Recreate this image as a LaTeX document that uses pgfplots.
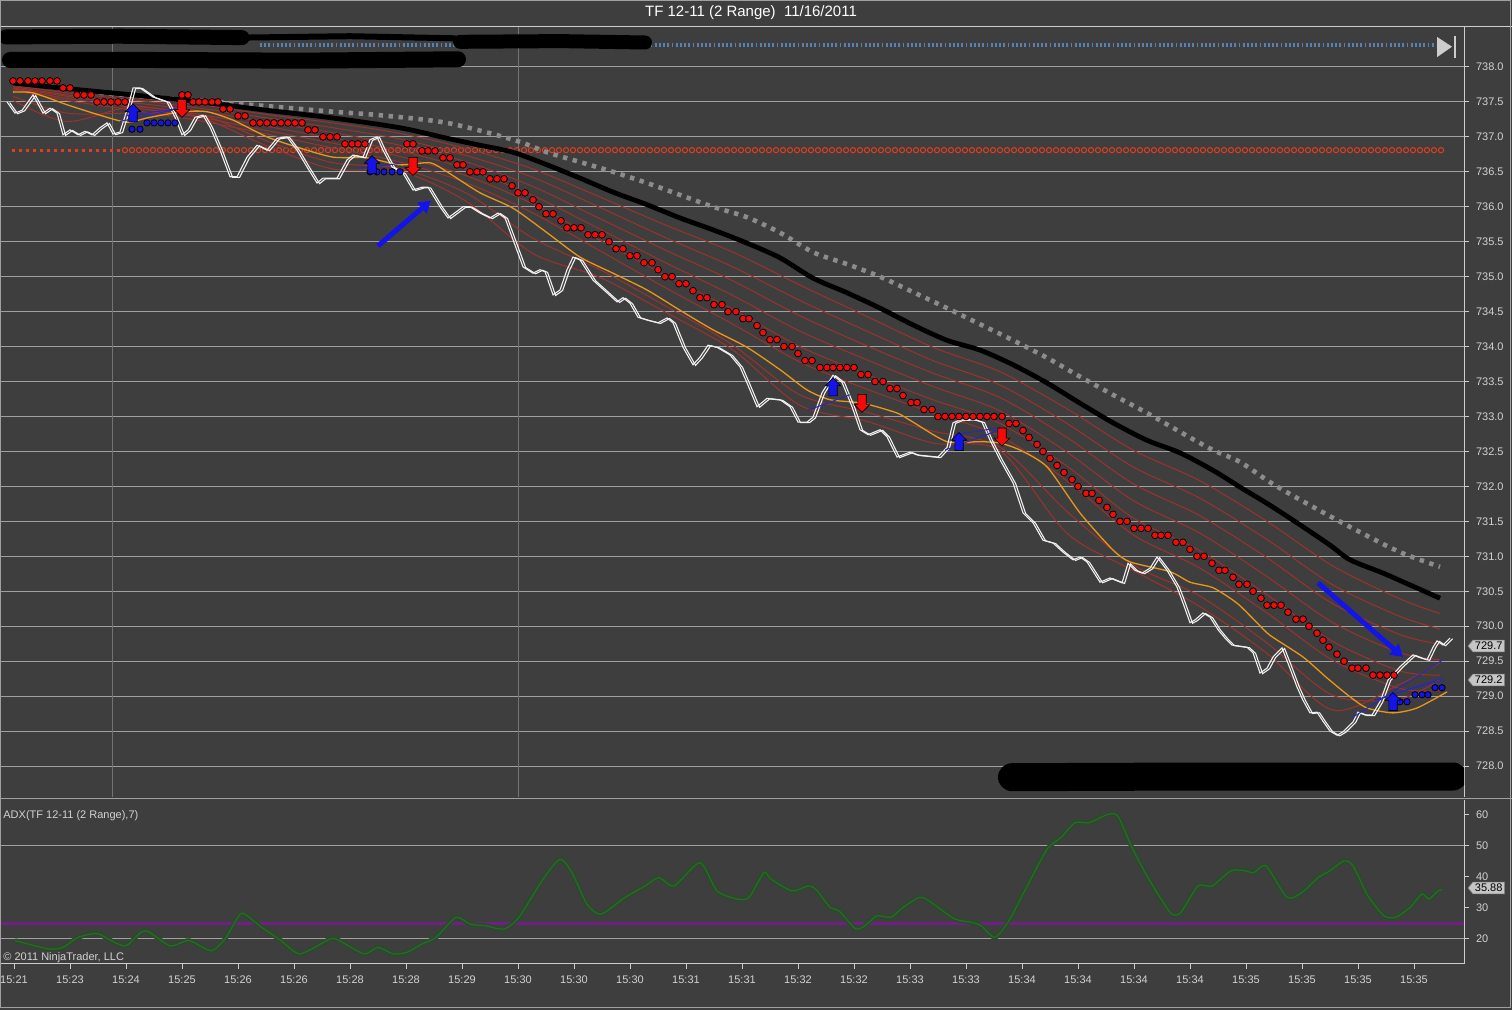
\documentclass[border=0pt]{standalone}
\usepackage{fontspec}
\setmainfont{Liberation Sans}
\usepackage{pgfplots}
\usepackage{pgfplotstable}
\pgfplotsset{compat=1.18}
\usetikzlibrary{arrows.meta,decorations.markings,shapes.symbols}

\definecolor{bgc}{RGB}{62,62,62}
\definecolor{gridc}{RGB}{160,160,160}
\definecolor{vgridc}{RGB}{115,115,115}
\definecolor{axisc}{RGB}{205,205,205}
\definecolor{labc}{RGB}{210,210,210}
\definecolor{grayd}{RGB}{140,140,140}
\definecolor{reddot}{RGB}{245,10,10}
\definecolor{circc}{RGB}{228,60,30}
\definecolor{fanc}{RGB}{155,50,44}
\definecolor{orangec}{RGB}{235,150,25}
\definecolor{pricec}{RGB}{240,240,240}
\definecolor{bluec}{RGB}{20,20,232}
\definecolor{bluel}{RGB}{40,40,190}
\definecolor{topblue}{RGB}{85,130,178}
\definecolor{purplec}{RGB}{112,32,132}
\definecolor{greenc}{RGB}{38,78,38}
\definecolor{greenl}{RGB}{50,100,50}
\definecolor{tagc}{RGB}{198,198,198}

\pgfdeclareplotmark{uparr}{%
  \pgfpathmoveto{\pgfqpoint{0pt}{4.6pt}}%
  \pgfpathlineto{\pgfqpoint{3.9pt}{0.7pt}}%
  \pgfpathlineto{\pgfqpoint{2.1pt}{0.7pt}}%
  \pgfpathlineto{\pgfqpoint{2.1pt}{-4.4pt}}%
  \pgfpathlineto{\pgfqpoint{-2.1pt}{-4.4pt}}%
  \pgfpathlineto{\pgfqpoint{-2.1pt}{0.7pt}}%
  \pgfpathlineto{\pgfqpoint{-3.9pt}{0.7pt}}%
  \pgfpathclose\pgfusepathqfillstroke}
\pgfdeclareplotmark{downarr}{%
  \pgfpathmoveto{\pgfqpoint{0pt}{-4.6pt}}%
  \pgfpathlineto{\pgfqpoint{3.9pt}{-0.7pt}}%
  \pgfpathlineto{\pgfqpoint{2.1pt}{-0.7pt}}%
  \pgfpathlineto{\pgfqpoint{2.1pt}{4.4pt}}%
  \pgfpathlineto{\pgfqpoint{-2.1pt}{4.4pt}}%
  \pgfpathlineto{\pgfqpoint{-2.1pt}{-0.7pt}}%
  \pgfpathlineto{\pgfqpoint{-3.9pt}{-0.7pt}}%
  \pgfpathclose\pgfusepathqfillstroke}
\pgfdeclareplotmark{ring}{%
  \pgfpathcircle{\pgfpointorigin}{1.3pt}\pgfusepathqstroke}

% close price (two white traces)
\pgfplotstableread{
x y
7 737.50
15 737.34
22 737.38
33 737.60
43 737.34
50 737.41
57 737.34
63 737.03
70 737.10
78 737.03
85 737.08
92 737.03
100 737.13
107 737.20
113 737.04
120 737.07
128 737.43
133 737.70
140 737.70
153 737.57
167 737.50
175 737.28
182 737.03
188 737.10
195 737.28
203 737.31
210 737.14
220 736.81
230 736.43
237 736.43
247 736.71
257 736.88
267 736.81
277 736.98
287 737.00
297 736.81
307 736.57
317 736.34
323 736.41
337 736.41
347 736.67
353 736.74
363 736.71
370 736.96
377 737.00
383 736.81
392 736.57
403 736.48
413 736.24
422 736.28
428 736.28
440 736.00
448 735.84
463 736.00
470 736.00
480 735.91
490 735.84
498 735.91
505 735.84
513 735.53
523 735.14
533 735.05
540 735.10
545 735.07
553 734.74
560 734.81
567 735.10
573 735.28
580 735.24
593 734.95
607 734.77
617 734.64
623 734.70
630 734.62
638 734.42
647 734.38
658 734.34
667 734.41
673 734.34
683 733.99
693 733.74
700 733.85
708 734.02
717 733.99
730 733.88
740 733.71
747 733.48
757 733.14
767 733.26
780 733.24
790 733.14
798 732.92
807 732.92
813 732.99
822 733.34
833 733.59
842 733.49
852 733.14
860 732.81
868 732.74
880 732.81
887 732.71
897 732.42
910 732.49
917 732.45
938 732.42
947 732.56
953 732.91
960 732.95
973 732.96
982 732.92
990 732.66
1000 732.38
1013 732.05
1023 731.62
1033 731.48
1043 731.23
1053 731.19
1063 731.06
1073 730.95
1080 730.99
1087 730.92
1100 730.63
1110 730.69
1122 730.62
1128 730.90
1135 730.80
1142 730.76
1150 730.83
1157 730.99
1167 730.80
1177 730.56
1183 730.33
1190 730.05
1195 730.09
1203 730.19
1210 730.13
1218 729.95
1225 729.83
1232 729.73
1247 729.70
1253 729.62
1260 729.33
1267 729.40
1273 729.56
1282 729.69
1288 729.47
1297 729.13
1303 728.94
1310 728.76
1317 728.77
1323 728.64
1330 728.50
1337 728.44
1343 728.49
1353 728.63
1358 728.77
1365 728.73
1372 728.73
1380 728.92
1388 729.23
1400 729.42
1413 729.59
1420 729.55
1427 729.52
1433 729.70
1437 729.79
1443 729.73
1450 729.83
}\price

% trailing stop dots
\pgfplotstableread{
x y
13 737.8
20 737.8
28 737.8
35 737.8
42 737.8
50 737.8
57 737.8
63 737.7
70 737.7
77 737.6
84 737.6
91 737.6
97 737.5
104 737.5
111 737.5
118 737.5
125 737.5
182 737.6
188 737.6
193 737.5
199 737.5
205 737.5
212 737.5
218 737.5
223 737.4
230 737.4
238 737.3
245 737.3
253 737.2
260 737.2
267 737.2
274 737.2
281 737.2
288 737.2
295 737.2
302 737.2
308 737.1
315 737.1
323 737.0
330 737.0
337 737.0
345 736.9
352 736.9
358 736.9
365 736.9
407 736.9
413 736.9
422 736.8
428 736.8
435 736.8
443 736.7
450 736.7
457 736.6
463 736.6
470 736.5
477 736.5
483 736.5
490 736.4
497 736.4
504 736.4
512 736.3
518 736.2
525 736.2
533 736.1
539 736.0
546 735.9
553 735.9
561 735.8
567 735.7
574 735.7
581 735.7
588 735.6
595 735.6
602 735.6
609 735.5
616 735.4
623 735.4
630 735.3
637 735.3
644 735.2
652 735.2
658 735.1
665 735.0
672 735.0
679 734.9
686 734.9
693 734.8
700 734.7
707 734.7
714 734.6
722 734.6
728 734.5
736 734.5
743 734.4
749 734.4
757 734.3
763 734.2
770 734.1
777 734.1
784 734.0
792 734.0
798 733.9
805 733.8
812 733.8
820 733.7
827 733.7
833 733.7
840 733.7
847 733.7
854 733.7
861 733.6
868 733.6
875 733.5
883 733.5
890 733.4
897 733.4
903 733.3
911 733.2
917 733.2
924 733.1
932 733.1
938 733.0
945 733.0
952 733.0
959 733.0
966 733.0
973 733.0
980 733.0
987 733.0
994 733.0
1002 733.0
1009 732.9
1016 732.9
1023 732.8
1029 732.7
1037 732.6
1043 732.5
1050 732.4
1057 732.3
1064 732.2
1072 732.1
1078 732.0
1086 731.9
1092 731.9
1099 731.8
1107 731.7
1113 731.6
1120 731.5
1127 731.5
1134 731.4
1141 731.4
1148 731.4
1155 731.3
1161 731.3
1168 731.3
1176 731.2
1183 731.2
1190 731.1
1197 731.0
1204 731.0
1212 730.9
1219 730.8
1225 730.8
1233 730.7
1239 730.6
1247 730.6
1253 730.5
1261 730.4
1267 730.3
1274 730.3
1281 730.3
1288 730.2
1296 730.1
1303 730.1
1309 730.0
1317 729.9
1323 729.8
1329 729.7
1337 729.6
1344 729.5
1352 729.4
1358 729.4
1366 729.4
1373 729.3
1380 729.3
1387 729.3
1394 729.3
}\stopdots

% ADX(7)
\pgfplotstableread{
x y
15 19.5
48 16.8
63 17.3
78 20.5
97 21.8
111 19.5
126 17.8
145 22.7
170 17.8
189 19.5
211 16.2
225 20.0
240 28.0
247 27.5
262 23.7
281 19.5
300 15.2
330 20.0
339 19.5
364 15.2
378 17.3
393 15.2
407 15.7
422 18.4
436 20.5
456 27.0
470 24.8
485 24.3
504 23.2
519 27.0
543 39.3
560 45.7
572 41.4
587 31.2
601 28.0
625 33.4
645 37.1
659 39.8
674 37.1
700 44.6
717 35.5
737 32.9
749 33.4
764 41.4
771 39.3
792 35.5
808 37.1
816 36.0
830 30.2
839 29.1
856 23.2
867 24.8
877 27.5
891 27.0
903 30.2
919 33.4
926 32.9
938 30.2
955 26.4
971 25.4
981 24.3
995 20.5
1009 25.9
1023 34.5
1047 48.9
1061 52.7
1075 57.5
1089 57.5
1108 60.2
1118 59.6
1132 49.5
1146 40.9
1160 33.4
1172 28.0
1181 28.6
1198 37.1
1212 37.1
1231 42.0
1245 42.0
1254 41.4
1266 43.6
1287 33.4
1302 35.0
1318 39.8
1330 42.0
1344 45.2
1353 43.6
1368 33.9
1384 27.5
1396 27.0
1410 30.2
1422 34.5
1429 32.9
1438 35.5
1442 35.9
}\adx

\pgfplotsset{
  lab/.style={font=\fontsize{5.5}{6}\selectfont, text=labc},
  fan/.style={fanc, line width=0.5pt, smooth, tension=0.5},
}

\begin{document}
\begin{tikzpicture}[x=1pt,y=1pt]
\useasboundingbox (0,0) rectangle (756,505);
\fill[bgc] (0,0) rectangle (756,505);

\begin{axis}[
  at={(0pt,106.5pt)}, anchor=south west, scale only axis,
  width=732pt, height=385pt,
  xmin=0, xmax=1464, ymin=727.557, ymax=738.572,
  axis x line=none, axis y line*=right,
  axis line style={-, draw=axisc, line width=0.5pt},
  tick align=outside, major tick length=2.5pt,
  ytick style={draw=axisc, line width=0.5pt},
  ytick={728,728.5,...,738.01},
  yticklabel style={lab, /pgf/number format/.cd, fixed, fixed zerofill, precision=1, assume math mode=true},
  ymajorgrids, grid style={gridc, line width=0.5pt},
]
% session lines
\addplot[vgridc, line width=0.5pt] coordinates {(112,727.557) (112,738.572)};
\addplot[vgridc, line width=0.5pt] coordinates {(518,727.557) (518,738.572)};

% blue dotted level
\addplot[topblue, line width=2pt, dash pattern=on 0.9pt off 1.2pt] coordinates {(260,738.31) (1436,738.31)};

% red dotted level: small dots, then open circles
\addplot[circc, line width=1.4pt, dash pattern=on 1.4pt off 2.1pt] coordinates {(12,736.81) (122,736.81)};
\addplot[draw=none, decoration={markings, mark=between positions 0 and 1 step 3.5pt with {\pgfuseplotmark{ring}}}, postaction={decorate, draw=none}, circc, line width=0.5pt] coordinates {(125,736.81) (1446,736.81)};

% ribbon of averages
\addplot[fan] coordinates {(13,737.75)(67,737.66)(133,737.56)(200,737.46)(267,737.32)(333,737.20)(400,737.05)(467,736.83)(533,736.54)(600,736.14)(667,735.73)(733,735.35)(800,734.88)(867,734.43)(933,733.99)(1000,733.64)(1067,733.11)(1133,732.52)(1200,732.08)(1267,731.50)(1333,730.86)(1400,730.39)(1440,730.18)};
\addplot[fan] coordinates {(13,737.74)(67,737.63)(133,737.53)(200,737.41)(267,737.27)(333,737.13)(400,736.97)(467,736.73)(533,736.42)(600,735.99)(667,735.55)(733,735.14)(800,734.66)(867,734.22)(933,733.80)(1000,733.45)(1067,732.90)(1133,732.28)(1200,731.83)(1267,731.24)(1333,730.59)(1400,730.14)(1440,729.96)};
\addplot[fan] coordinates {(13,737.72)(67,737.60)(133,737.49)(200,737.37)(267,737.21)(333,737.06)(400,736.88)(467,736.64)(533,736.29)(600,735.83)(667,735.37)(733,734.94)(800,734.44)(867,734.01)(933,733.62)(1000,733.27)(1067,732.70)(1133,732.04)(1200,731.58)(1267,730.98)(1333,730.32)(1400,729.88)(1440,729.74)};
\addplot[fan] coordinates {(13,737.70)(67,737.58)(133,737.45)(200,737.32)(267,737.15)(333,736.98)(400,736.80)(467,736.54)(533,736.16)(600,735.68)(667,735.19)(733,734.73)(800,734.22)(867,733.81)(933,733.43)(1000,733.08)(1067,732.49)(1133,731.80)(1200,731.33)(1267,730.71)(1333,730.05)(1400,729.62)(1440,729.52)};
\addplot[fan] coordinates {(13,737.69)(67,737.55)(133,737.42)(200,737.28)(267,737.09)(333,736.91)(400,736.72)(467,736.44)(533,736.04)(600,735.52)(667,735.01)(733,734.53)(800,734.00)(867,733.60)(933,733.24)(1000,732.90)(1067,732.29)(1133,731.55)(1200,731.08)(1267,730.45)(1333,729.78)(1400,729.36)(1440,729.30)};
\addplot[fan] coordinates {(13,737.67)(67,737.52)(133,737.38)(200,737.23)(267,737.04)(333,736.84)(400,736.64)(467,736.34)(533,735.91)(600,735.37)(667,734.83)(733,734.32)(800,733.78)(867,733.39)(933,733.05)(1000,732.72)(1067,732.08)(1133,731.31)(1200,730.83)(1267,730.19)(1333,729.51)(1400,729.11)(1440,729.08)};
\addplot[fan] coordinates {(13,737.58)(67,737.34)(133,737.34)(200,737.32)(267,736.94)(333,736.63)(400,736.55)(467,736.19)(533,735.55)(600,735.10)(667,734.57)(733,734.02)(800,733.31)(867,733.06)(933,732.79)(1000,732.56)(1067,731.64)(1133,730.88)(1200,730.43)(1267,729.76)(1333,729.01)(1400,728.96)(1440,729.24)};
\addplot[fan] coordinates {(13,737.52)(67,737.22)(133,737.43)(200,737.28)(267,736.87)(333,736.54)(400,736.51)(467,736.07)(533,735.33)(600,734.99)(667,734.48)(733,733.95)(800,733.16)(867,732.93)(933,732.62)(1000,732.51)(1067,731.33)(1133,730.80)(1200,730.28)(1267,729.61)(1333,728.80)(1400,729.17)(1440,729.48)};

% slow average (gray dotted)
\addplot[grayd, line width=2.3pt, dash pattern=on 2.2pt off 2.8pt, smooth] coordinates {(40,737.74)(100,737.63)(233,737.48)(333,737.36)(380,737.31)(447,737.20)(513,736.96)(547,736.78)(580,736.64)(613,736.50)(647,736.34)(680,736.17)(713,736.00)(747,735.85)(780,735.63)(813,735.35)(847,735.18)(880,735.00)(913,734.78)(947,734.55)(980,734.32)(1013,734.09)(1047,733.84)(1080,733.57)(1113,733.31)(1147,733.05)(1180,732.78)(1213,732.52)(1240,732.35)(1270,732.06)(1300,731.81)(1350,731.42)(1400,731.06)(1440,730.85)};

% black average
\addplot[black, line width=2.4pt, smooth] coordinates {(13,737.77)(67,737.69)(133,737.60)(200,737.50)(267,737.38)(333,737.27)(400,737.13)(447,736.98)(480,736.88)(513,736.78)(547,736.60)(580,736.41)(613,736.21)(647,736.03)(680,735.84)(713,735.67)(747,735.48)(780,735.27)(813,734.98)(847,734.77)(880,734.55)(913,734.31)(947,734.09)(980,733.95)(1013,733.74)(1047,733.48)(1080,733.19)(1113,732.91)(1147,732.66)(1180,732.48)(1213,732.23)(1240,731.99)(1270,731.73)(1300,731.45)(1330,731.16)(1350,730.95)(1383,730.76)(1410,730.59)(1440,730.40)};

% orange average
\addplot[orangec, line width=0.65pt, smooth, tension=0.4] coordinates {(13,737.64)(33,737.63)(67,737.46)(100,737.31)(127,737.21)(150,737.28)(183,737.36)(207,737.36)(233,737.24)(267,737.00)(300,736.84)(333,736.71)(367,736.70)(400,736.60)(430,736.63)(447,736.50)(480,736.20)(513,735.98)(547,735.63)(580,735.28)(613,735.05)(647,734.81)(680,734.52)(713,734.24)(747,733.99)(780,733.67)(807,733.38)(830,733.24)(863,733.19)(897,733.05)(913,732.92)(947,732.64)(980,732.64)(1000,732.62)(1020,732.52)(1047,732.28)(1080,731.62)(1113,731.09)(1130,730.92)(1170,730.78)(1190,730.63)(1213,730.55)(1237,730.33)(1257,730.05)(1270,729.87)(1303,729.56)(1327,729.26)(1350,728.99)(1367,728.83)(1393,728.76)(1417,728.83)(1447,729.06)};

% price
\addplot[pricec, line width=0.55pt] table {\price};
\addplot[pricec, line width=0.55pt, xshift=1.3pt, yshift=-0.3pt] table {\price};

% thin blue trend lines
\addplot[bluel, line width=0.5pt] coordinates {(120,737.22)(172,737.38)};
\addplot[bluel, line width=0.5pt] coordinates {(126,737.30)(176,737.40)};
\addplot[bluel, line width=0.5pt] coordinates {(358,736.55)(400,736.62)};
\addplot[bluel, line width=0.5pt] coordinates {(808,733.09)(850,733.31)};
\addplot[bluel, line width=0.5pt] coordinates {(945,732.52)(1000,732.81)};
\addplot[bluel, line width=0.5pt] coordinates {(955,732.74)(1000,732.84)};
\addplot[bluel, line width=0.5pt] coordinates {(1352,728.69)(1443,729.52)};
\addplot[bluel, line width=0.5pt] coordinates {(1375,728.94)(1443,729.26)};
\addplot[bluel, line width=0.5pt] coordinates {(1395,729.04)(1443,729.23)};

% blue stop dots
\addplot[only marks, mark=*, mark size=1.6pt, mark options={fill=bluec, draw=none}] coordinates {(132,737.11)(140,737.11)(147,737.20)(154,737.20)(161,737.20)(168,737.20)(175,737.20)(370,736.50)(377,736.50)(384,736.50)(392,736.50)(400,736.50)(1400,728.92)(1407,728.92)(1415,729.02)(1422,729.02)(1428,729.02)(1435,729.12)(1442,729.12)};

% red stop dots
\addplot[only marks, mark=*, mark size=1.7pt, mark options={fill=reddot, draw=none}] table {\stopdots};

% signal arrows
\addplot[only marks, mark=uparr, mark options={fill=bluec, draw=black, line width=0.3pt}] coordinates {(133,737.34)(372,736.60)(833,733.42)(959,732.64)(1393,728.92)};
\addplot[only marks, mark=downarr, mark options={fill=reddot, draw=black, line width=0.3pt}] coordinates {(182,737.41)(413,736.58)(862,733.19)(1002,732.71)};

% hand-drawn pointers
\addplot[bluec, line width=2.5pt, -{Triangle[length=6pt,width=7pt]}] coordinates {(378,735.44)(431,736.09)};
\addplot[bluec, line width=2.5pt, -{Triangle[length=6pt,width=7pt]}] coordinates {(1318,730.62)(1403,729.56)};

% redactions
\addplot[black, line width=7.5pt, line cap=round] coordinates {(6,738.43)(120,738.44)(242,738.42)};
\addplot[black, line width=3pt, line cap=round] coordinates {(242,738.42)(350,738.44)(455,738.41)};
\addplot[black, line width=8pt, line cap=round] coordinates {(10,738.10)(150,738.10)(300,738.09)(458,738.11)};
\addplot[black, line width=7pt, line cap=round] coordinates {(460,738.36)(560,738.37)(645,738.35)};
\addplot[black, line width=14pt, line cap=round] coordinates {(1012,727.84)(1200,727.85)(1453,727.85)};

% go-to-end icon
\addplot[fill=axisc, draw=none] coordinates {(1437,738.43)(1452,738.29)(1437,738.14)} -- cycle;
\addplot[axisc, line width=1.4pt] coordinates {(1455,738.44)(1455,738.13)};
\end{axis}

\begin{axis}[
  at={(0pt,23pt)}, anchor=south west, scale only axis,
  width=732pt, height=82pt,
  xmin=0, xmax=1464, ymin=11.935, ymax=64.84,
  axis x line*=bottom, axis y line*=right,
  axis line style={-, draw=axisc, line width=0.5pt},
  tick align=outside, major tick length=2.5pt,
  tick style={draw=axisc, line width=0.5pt},
  ytick={20,30,40,50,60},
  xtick={14,70,...,1414},
  xticklabels={15:21,15:23,15:24,15:25,15:26,15:26,15:28,15:28,15:29,15:30,15:30,15:30,15:31,15:31,15:32,15:32,15:33,15:33,15:34,15:34,15:34,15:34,15:35,15:35,15:35,15:35},
  ticklabel style={lab},
  yticklabel style={/pgf/number format/assume math mode=true},
]
\addplot[gridc, line width=0.5pt] coordinates {(0,50)(1464,50)};
\addplot[gridc, line width=0.5pt] coordinates {(0,20)(1464,20)};
\addplot[purplec, line width=1.5pt] coordinates {(0,25)(1464,25)};
\addplot[greenc, line width=2.3pt, smooth, tension=0.4] table {\adx};
\addplot[greenl, line width=0.6pt, smooth, tension=0.4] table {\adx};
\end{axis}

% frame and separators
\draw[axisc, line width=0.5pt] (0,491.5) -- (756,491.5);
\draw[gridc, line width=0.5pt] (0,105.8) -- (756,105.8);
\draw[gridc, line width=0.5pt] (0.3,1) rectangle (755.3,504.7);

% texts
\node[font=\fontsize{7.5}{9}\selectfont, text=white] at (375.5,498.5) {TF 12-11 (2 Range)\ \ 11/16/2011};
\node[font=\fontsize{5.5}{6}\selectfont, text=labc, anchor=west, inner sep=0pt] at (1.5,97) {ADX(TF 12-11 (2 Range),7)};
\node[font=\fontsize{5.5}{6}\selectfont, text=labc, anchor=west, inner sep=0pt] at (1.5,26.3) {© 2011 NinjaTrader, LLC};
\node[signal, signal to=west, signal pointer angle=100, fill=tagc, draw=gray, line width=0.3pt, text=black, font=\fontsize{5.5}{6}\selectfont, inner sep=1pt, anchor=west] at (733.8,182) {729.7};
\node[signal, signal to=west, signal pointer angle=100, fill=tagc, draw=gray, line width=0.3pt, text=black, font=\fontsize{5.5}{6}\selectfont, inner sep=1pt, anchor=west] at (733.8,165) {729.2};
\node[signal, signal to=west, signal pointer angle=100, fill=tagc, draw=gray, line width=0.3pt, text=black, font=\fontsize{5.5}{6}\selectfont, inner sep=1pt, anchor=west] at (733.8,61) {35.88};
\end{tikzpicture}
\end{document}
